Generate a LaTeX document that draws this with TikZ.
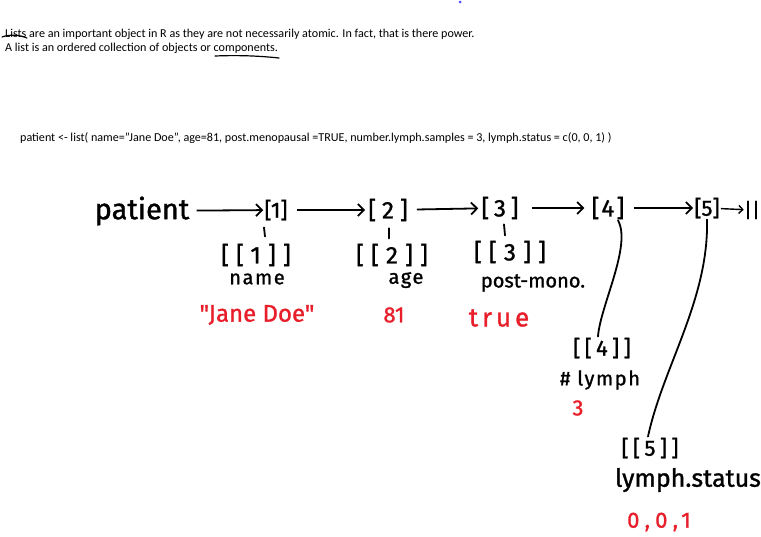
\documentclass[tikz,border=0pt]{standalone}
\usepackage{fontspec}
\setmainfont{Carlito}
\newfontfamily\hand[FakeBold=1.2]{Fira Sans}
\usetikzlibrary{arrows.meta}
\definecolor{hred}{RGB}{232,30,42}
\begin{document}
\begin{tikzpicture}[x=1pt,y=-1pt,
  typed/.style={anchor=base west, inner sep=0, font=\fontsize{12.1}{14}\selectfont},
  hw/.style={inner sep=1pt, font=\hand\fontsize{22}{24}\selectfont},
  hwb/.style={inner sep=1pt, font=\hand\fontsize{24}{26}\selectfont\addfontfeature{LetterSpace=30}},
  hwsmall/.style={hw, font=\hand\fontsize{20}{22}\selectfont\addfontfeature{LetterSpace=8}},
  hwred/.style={hw, text=hred},
  link/.style={line width=1.8pt, -{Straight Barb[length=6pt,width=12pt]}},
  stroke/.style={line width=1.8pt, line cap=round}]
\useasboundingbox (0,0) rectangle (761,536);
\fill[blue!70] (460,2) circle (1.5);

% typed text
\node[typed] (l1) at (5,37) {Lists are an important object in R as they are not necessarily atomic. In fact, that is there power.};
\node[typed] (l2) at (5,51) {A list is an ordered collection of objects or components.};
\draw[stroke, line width=1.2pt] (2,37) .. controls (10,34) and (20,35) .. (27,38);
\draw[stroke, line width=1.2pt] (215,56) .. controls (240,55) and (260,56) .. (279,58);
\node[typed] (code) at (20,141) {patient <- list( name=''Jane Doe'', age=81, post.menopausal =TRUE, number.lymph.samples = 3, lymph.status = c(0, 0, 1) )};

% top chain
\node[hw, font=\hand\fontsize{29}{31}\selectfont] (patient) at (142,211) {patient};
\node[hw] (b1) at (276,210) {[1]};
\node[hw, font=\hand\fontsize{24}{26}\selectfont\addfontfeature{LetterSpace=25}] (b2) at (388,210) {[2]};
\node[hw, font=\hand\fontsize{24}{26}\selectfont\addfontfeature{LetterSpace=20}] (b3) at (500,208) {[3]};
\node[hw, font=\hand\fontsize{24}{26}\selectfont\addfontfeature{LetterSpace=10}] (b4) at (608,208) {[4]};
\node[hw] (b5) at (707,208) {[5]};
\node[hw, inner sep=0pt, font=\hand\fontsize{20}{22}\selectfont] (nil) at (752,210) {||};
\draw[link, shorten <=6pt] (patient) -- (b1);
\draw[link, shorten <=8pt, shorten >=2pt] (b1) -- (b2);
\draw[link, shorten <=8pt, shorten >=2pt] (b2) -- (b3);
\draw[link, shorten <=12pt, shorten >=6pt] (b3) -- (b4);
\draw[link, shorten <=8pt] (b4) -- (b5);
\draw[link, line width=1.4pt, -{Straight Barb[length=4pt,width=8pt]}] (b5) -- (nil);

% components
\node[hwb] (bb1) at (256,255) {[[1]]};
\node[hwsmall] (name) at (257,279) {name};
\node[hwred, font=\hand\fontsize{24}{26}\selectfont] (jane) at (257,315) {"Jane Doe"};
\node[hwb] (bb2) at (392,255) {[[2]]};
\node[hwsmall] (age) at (406,280) {age};
\node[hwred] (v81) at (394,315) {81};
\node[hwb] (bb3) at (510,252) {[[3]]};
\node[hw, font=\hand\fontsize{20}{22}\selectfont] (post) at (533,283) {post-mono.};
\node[hwred, font=\hand\fontsize{26}{28}\selectfont\addfontfeature{LetterSpace=15}] (true) at (499,318) {true};
\node[hwb, font=\hand\fontsize{22}{24}\selectfont\addfontfeature{LetterSpace=20}] (bb4) at (602,348) {[[4]]};
\node[hwsmall] (lymph) at (600,380) {\# lymph};
\node[hwred] (three) at (578,408) {3};
\node[hwb, font=\hand\fontsize{22}{24}\selectfont\addfontfeature{LetterSpace=20}] (bb5) at (650,448) {[[5]]};
\node[hw, font=\hand\fontsize{25}{27}\selectfont] (status) at (688,480) {lymph.status};
\node[hwred, font=\hand\fontsize{22}{24}\selectfont\addfontfeature{LetterSpace=25}] (zero) at (659,522) {0,0,1};

\draw[stroke] (b1.south) ++(-12,6) -- ++(1,9);
\draw[stroke] (b2.south) ++(1,6) -- ++(0,10);
\draw[stroke] (b3.south) ++(4,4) -- ++(1,11);
\draw[stroke] ([xshift=10pt]b4.south) .. controls +(14,25) and +(2,-30) .. ([xshift=-4pt]bb4.north);
\draw[stroke] (b5.south) .. controls +(2,80) and +(15,-70) .. ([xshift=-2pt]bb5.north);
\end{tikzpicture}
\end{document}
